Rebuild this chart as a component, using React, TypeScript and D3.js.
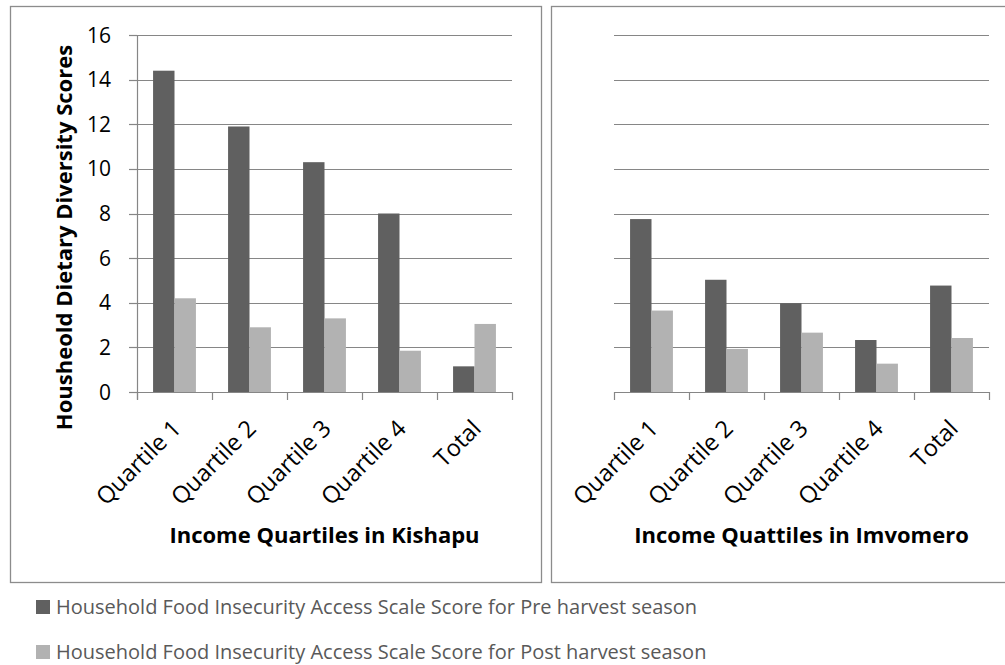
import React from "react";
import * as d3 from "d3";

const categories = ["Quartile 1", "Quartile 2", "Quartile 3", "Quartile 4", "Total"];
const seriesNames = [
  "Household Food Insecurity Access Scale Score for Pre harvest season",
  "Household Food Insecurity Access Scale Score for Post harvest season",
];
const kishapuPre = [14.4, 11.9, 10.3, 8.0, 1.15];
const kishapuPost = [4.2, 2.9, 3.3, 1.85, 3.05];
const imvomeroPre = [7.75, 5.03, 3.98, 2.33, 4.77];
const imvomeroPost = [3.65, 1.93, 2.66, 1.27, 2.42];
const yTicks = [0, 2, 4, 6, 8, 10, 12, 14, 16];
const colors = ["#606060", "#b2b2b2"];

const FONT = "'Open Sans', sans-serif";
const W = 1005;
const H = 665;

const y = d3.scaleLinear().domain([0, 16]).range([392, 35]);

function Panel({
  x0, x1, pre, post, title, showY, box,
}: {
  x0: number; x1: number; pre: number[]; post: number[]; title: string; showY: boolean;
  box: [number, number, number, number];
}) {
  const x = d3.scaleBand().domain(categories).range([x0, x1]).paddingInner(0).paddingOuter(0);
  const bw = x.bandwidth() / 3.5;
  const series = [pre, post];
  const ticksX = categories.map((c) => x(c)!).concat([x1]);
  const gy = (t: number) => Math.round(y(t)) + 0.5;
  return (
    <g>
      <rect x={box[0] + 0.5} y={box[1] + 0.5} width={box[2]} height={box[3]} fill="white" stroke="#8c8c8c" strokeWidth={1.3} />
      {yTicks.map((t) => (
        <line key={"g" + t} x1={x0} x2={x1} y1={gy(t)} y2={gy(t)} stroke="#868686" strokeWidth={1.2} />
      ))}
      {showY && (
        <line x1={x0 + 0.5} x2={x0 + 0.5} y1={gy(16)} y2={gy(0) + 7} stroke="#868686" strokeWidth={1.2} />
      )}
      {showY &&
        yTicks.map((t) => (
          <g key={"yt" + t}>
            <line x1={x0 - 8} x2={x0} y1={gy(t)} y2={gy(t)} stroke="#868686" strokeWidth={1.2} />
            <text x={x0 - 26} y={y(t)} dy="0.36em" textAnchor="end" fontSize={21} fontFamily={FONT} fill="#000">
              {t}
            </text>
          </g>
        ))}
      {ticksX.map((tx, i) => (
        <line key={"xt" + i} x1={Math.round(tx) + 0.5} x2={Math.round(tx) + 0.5} y1={y(0)} y2={y(0) + 8} stroke="#868686" strokeWidth={1.2} />
      ))}
      {categories.map((c, i) =>
        series.map((s, k) => {
          const bx = x(c)! + x.bandwidth() / 2 - bw + k * bw;
          return (
            <rect key={c + k} x={bx} y={y(s[i])} width={bw} height={y(0) - y(s[i])} fill={colors[k]} />
          );
        })
      )}
      {categories.map((c) => {
        const cx = x(c)! + x.bandwidth() / 2 + 8;
        return (
          <text
            key={"l" + c}
            transform={`translate(${cx},${y(0) + 38}) rotate(-45)`}
            textAnchor="end"
            fontSize={23.5}
            fontFamily={FONT}
            fill="#000"
          >
            {c}
          </text>
        );
      })}
      <text x={(x0 + x1) / 2} y={543} textAnchor="middle" fontSize={22} fontWeight="bold" fontFamily={FONT} fill="#000">
        {title}
      </text>
    </g>
  );
}

export default function App() {
  return (
    <svg width={W} height={H} style={{ position: "absolute", left: 0, top: 0, background: "white" }}>
      <rect x={0} y={0} width={W} height={H} fill="white" />
      <Panel x0={137} x1={512} pre={kishapuPre} post={kishapuPost} title="Income Quartiles in Kishapu" showY={true} box={[10, 6, 531, 576]} />
      <Panel x0={614} x1={989} pre={imvomeroPre} post={imvomeroPost} title="Income Quattiles in Imvomero" showY={false} box={[551, 6, 460, 576]} />
      <text
        transform={`translate(72,${(45 + 430) / 2}) rotate(-90)`}
        textAnchor="middle"
        fontSize={22}
        fontWeight="bold"
        fontFamily={FONT}
        fill="#000"
      >
        Housheold Dietary Diversity Scores
      </text>
      {seriesNames.map((n, k) => (
        <g key={n}>
          <rect x={36} y={600 + k * 45} width={14} height={14} fill={colors[k]} />
          <text x={56} y={614 + k * 45} fontSize={20} fontFamily={FONT} fill="#595959">
            {n}
          </text>
        </g>
      ))}
    </svg>
  );
}
